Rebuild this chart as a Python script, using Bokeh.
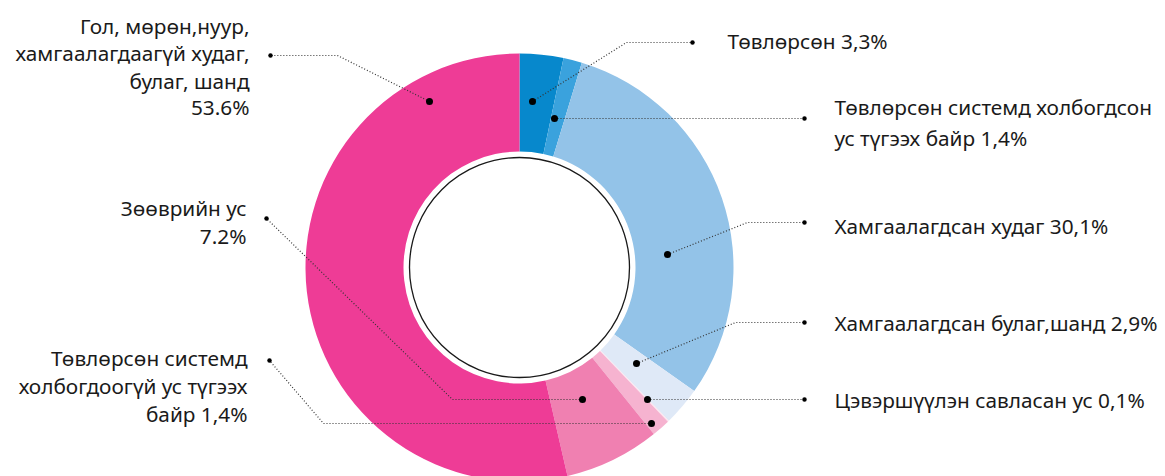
from bokeh.plotting import figure
from bokeh.models import Range1d
from bokeh.core.properties import value
from bokeh.embed import file_html
from bokeh.resources import INLINE
import numpy as np

# ---- data ----
categories = [
    "Төвлөрсөн",
    "Төвлөрсөн системд холбогдсон ус түгээх байр",
    "Хамгаалагдсан худаг",
    "Хамгаалагдсан булаг,шанд",
    "Цэвэршүүлэн савласан ус",
    "Төвлөрсөн системд холбогдоогүй ус түгээх байр",
    "Зөөврийн ус",
    "Гол, мөрөн,нуур, хамгаалагдаагүй худаг, булаг, шанд",
]
shares = [3.3, 1.4, 30.1, 2.9, 0.1, 1.4, 7.2, 53.6]
label_lines = [
    ["Төвлөрсөн 3,3%"],
    ["Төвлөрсөн системд холбогдсон", "ус түгээх байр 1,4%"],
    ["Хамгаалагдсан худаг 30,1%"],
    ["Хамгаалагдсан булаг,шанд 2,9%"],
    ["Цэвэршүүлэн савласан ус 0,1%"],
    ["Төвлөрсөн системд", "холбогдоогүй ус түгээх", "байр 1,4%"],
    ["Зөөврийн ус", "7.2%"],
    ["Гол, мөрөн,нуур,", "хамгаалагдаагүй худаг,", "булаг, шанд", "53.6%"],
]

# ---- styles / layout ----
colors = ["#0788cc", "#3aa2dd", "#93c3e8", "#dfe9f7", "#fce5ef", "#f6b3d0", "#f080b1", "#ee3c96"]
W, H = 1165, 476
FONT = "Noto Sans"

def Y(sy):
    return H - sy

cx, cy = 519, Y(267)
r_in, r_out = 116, 214

# label layout: (text x, align, line y's, leader polyline in screen coords)
layout = [
    (727, "left", [40], [(532, 101), (626, 42), (692, 42)]),
    (834, "left", [106, 137], [(554, 118), (804, 118)]),
    (834, "left", [225], [(667, 254), (747, 222), (804, 222)]),
    (834, "left", [322], [(636, 363), (735, 322), (804, 322)]),
    (834, "left", [399], [(647, 399), (804, 399)]),
    (247, "right", [357, 385, 413], [(651, 423), (323, 423), (269, 360)]),
    (246, "right", [207, 235], [(582, 399), (452, 399), (266, 218)]),
    (249, "right", [25, 52, 80, 106], [(429, 101), (337, 55), (270, 55)]),
]

p = figure(width=W, height=H, output_backend="svg", toolbar_location=None,
           x_range=Range1d(0, W), y_range=Range1d(0, H),
           x_axis_location=None, y_axis_location=None, min_border=0,
           match_aspect=False)
p.grid.visible = False
p.outline_line_color = None
p.background_fill_color = "white"
p.border_fill_color = "white"

# donut
cum = np.concatenate([[0], np.cumsum(shares)])
starts = [np.pi / 2 - cum[i + 1] / 100 * 2 * np.pi for i in range(len(shares))]
ends = [np.pi / 2 - cum[i] / 100 * 2 * np.pi for i in range(len(shares))]
p.annular_wedge(x=[cx] * len(shares), y=[cy] * len(shares), inner_radius=r_in, outer_radius=r_out,
                start_angle=starts, end_angle=ends, fill_color=colors, line_color=None)

# inner circle line
p.circle(x=[cx], y=[cy], radius=110, fill_color="white", line_color="#1a1a1a", line_width=1.3)

# leaders and labels
for (tx, align, ys, pts), lines in zip(layout, label_lines):
    xs = [q[0] for q in pts]
    yy = [Y(q[1]) for q in pts]
    p.line(xs, yy, line_color="#333333", line_width=1.2, line_dash="1 2")
    p.scatter([xs[0]], [yy[0]], size=7, fill_color="black", line_color=None)
    p.scatter([xs[-1]], [yy[-1]], size=4.5, fill_color="black", line_color=None)
    p.text(x=[tx] * len(lines), y=[Y(v) for v in ys], text=lines,
           text_align=align, text_baseline="middle",
           text_font=value(FONT), text_font_size="20.8px", text_color="#1a1a1a")

open("out.html", "w").write(file_html(p, INLINE))
